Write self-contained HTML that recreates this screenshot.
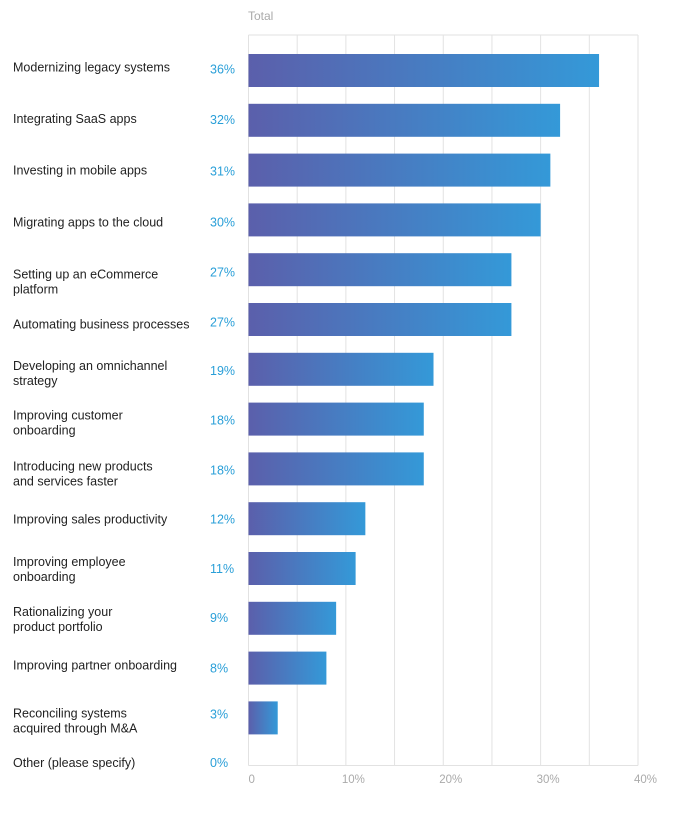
<!DOCTYPE html>
<html><head><meta charset="utf-8"><style>
body{margin:0;background:#fff;font-family:"Liberation Sans",sans-serif;}
svg text{font-family:"Liberation Sans",sans-serif;}
</style></head><body>
<svg id="chart" width="691" height="810" xmlns="http://www.w3.org/2000/svg">
<defs><linearGradient id="g" x1="0" x2="1" y1="0" y2="0"><stop offset="0" stop-color="#5b5fab"/><stop offset="1" stop-color="#3499d8"/></linearGradient></defs>
<text x="248" y="20" font-size="12" fill="#aaa">Total</text>
</svg>
<script>
const categories=[["Modernizing legacy systems"],["Integrating SaaS apps"],["Investing in mobile apps"],["Migrating apps to the cloud"],["Setting up an eCommerce","platform"],["Automating business processes"],["Developing an omnichannel","strategy"],["Improving customer","onboarding"],["Introducing new products","and services faster"],["Improving sales productivity"],["Improving employee","onboarding"],["Rationalizing your","product portfolio"],["Improving partner onboarding"],["Reconciling systems","acquired through M&A"],["Other (please specify)"]];
const values=[36,32,31,30,27,27,19,18,18,12,11,9,8,3,0];
const valueLabels=["36%","32%","31%","30%","27%","27%","19%","18%","18%","12%","11%","9%","8%","3%","0%"];
const tickValues=[0,10,20,30,40];
const tickLabels=["0","10%","20%","30%","40%"];
const gridValues=[0,5,10,15,20,25,30,35,40];
// label layout offsets (px) relative to bar centre, as observed in the design
const labelOff=[-3.5,-2,0,2,4.5,4.5,-4,-4,-3,0.5,-7,-7,-3,-5,-5];
const pctOff=[-1.5,-1,1,2,2.5,2.5,1,1,1,0.5,0,-1,0,-4,-5];
const svg=document.getElementById('chart');const NS="http://www.w3.org/2000/svg";
const x0=248.5,x1=638,yTop=35,yBot=765.5,pitch=49.8,firstC=70.5,bh=33;
const xs=v=>x0+(x1-x0)*v/40;
const yc=i=>firstC+i*pitch;
function mk(t,a){const e=document.createElementNS(NS,t);for(const k in a)e.setAttribute(k,a[k]);svg.appendChild(e);return e;}
gridValues.forEach(v=>{const l=mk('line',{x1:xs(v),x2:xs(v),y1:yTop,y2:yBot,stroke:'#e2e2e2','stroke-width':1});

});
const t=mk('line',{x1:x0,x2:x1,y1:yTop,y2:yTop,stroke:'#e2e2e2'});


const b=mk('line',{x1:x0,x2:x1,y1:yBot,y2:yBot,stroke:'#e2e2e2'});


tickValues.forEach((v,i)=>{const e=mk('text',{x:xs(v)+(i==0?0:-4),y:783,'font-size':11.5,fill:'#aaa'});e.textContent=tickLabels[i];

});
values.forEach((v,i)=>{
 const c=yc(i);
 if(v>0){const r=mk('rect',{x:x0,y:c-bh/2,width:xs(v)-x0,height:bh,fill:'url(#g)'});
 
 }
 const p=mk('text',{x:210,y:c+4.5+pctOff[i],'font-size':12.5,fill:'#2a9fd8'});p.textContent=valueLabels[i];
 
 
 const lines=categories[i];
 lines.forEach((s,j)=>{const e=mk('text',{x:13,y:c+4.5+labelOff[i]+(lines.length>1?j*15:0),'font-size':12.5,fill:'#222'});e.textContent=s;
 
 });
});
</script>
</body></html>
